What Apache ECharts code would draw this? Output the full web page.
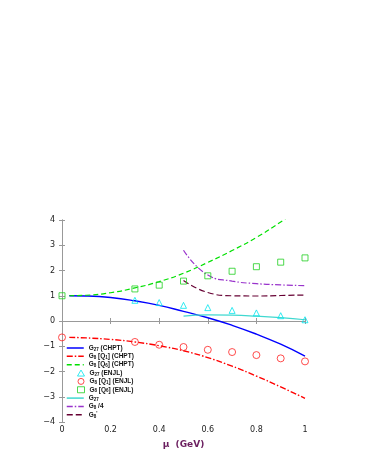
<!DOCTYPE html>
<html><head><meta charset="utf-8">
<script src="https://cdn.jsdelivr.net/npm/echarts@6/dist/echarts.min.js"></script>
<style>html,body{margin:0;padding:0;background:#fff}#c{width:368px;height:476px}</style>
</head><body><div id="c"></div>
<script>
// Data
const muCurve = [0.03, 0.1, 0.2, 0.3, 0.4, 0.5, 0.6, 0.7, 0.8, 0.9, 1.0];
const g27Chpt = [1.0, 0.99, 0.93, 0.80, 0.62, 0.38, 0.13, -0.17, -0.52, -0.92, -1.39];
const g8q1Chpt = [-0.65, -0.67, -0.73, -0.83, -0.98, -1.18, -1.45, -1.79, -2.18, -2.61, -3.06];
const g8q6Chpt = [1.0, 1.02, 1.12, 1.31, 1.56, 1.89, 2.32, 2.79, 3.31, 3.92, 4.6];
const muPts = [0, 0.3, 0.4, 0.5, 0.6, 0.7, 0.8, 0.9, 1.0];
const g27Enjl = [null, 0.82, 0.73, 0.62, 0.53, 0.42, 0.32, 0.21, 0.05];
const g8q1Enjl = [-0.65, -0.83, -0.94, -1.03, -1.14, -1.23, -1.35, -1.48, -1.60];
const g8q6Enjl = [1.0, 1.27, 1.42, 1.58, 1.79, 1.97, 2.15, 2.33, 2.50];
const muHigh = [0.5, 0.6, 0.7, 0.8, 0.9, 1.0];
const g27Line = [0.19, 0.24, 0.23, 0.19, 0.13, 0.05];
const g8Quarter = [2.80, 1.82, 1.58, 1.48, 1.43, 1.40];
const g8Prime = [1.60, 1.13, 1.00, 0.99, 1.01, 1.03];
const xTicks = [0, 0.2, 0.4, 0.6, 0.8, 1];
const yTicks = [-4, -3, -2, -1, 0, 1, 2, 3, 4];

const namesChpt = ['G27 (CHPT)','G8 [Q1] (CHPT)','G8 [Q6] (CHPT)'];
const namesEnjl = ['G27 (ENJL)','G8 [Q1] (ENJL)','G8 [Q6] (ENJL)'];
const namesOther = ['G27','G8/4',"G8'"];
const richNames = {
  'G27 (CHPT)': '{t|G}{s|27}{t| (CHPT)}',
  'G8 [Q1] (CHPT)': '{t|G}{s|8}{t| [Q}{s|1}{t|] (CHPT)}',
  'G8 [Q6] (CHPT)': '{t|G}{s|8}{t| [Q}{s|6}{t|] (CHPT)}',
  'G27 (ENJL)': '{t|G}{s|27}{t| (ENJL)}',
  'G8 [Q1] (ENJL)': '{t|G}{s|8}{t| [Q}{s|1}{t|] (ENJL)}',
  'G8 [Q6] (ENJL)': '{t|G}{s|8}{t| [Q}{s|6}{t|] (ENJL)}',
  'G27': '{t|G}{s|27}',
  'G8/4': '{t|G}{s|8}{t| /4}',
  "G8'": "{t|G}{s|8}{p|'}"
};
const zip = (xs, ys) => xs.map((x, i) => [x, ys[i]]);
const fmtNum = v => { const s = (Math.round(v*10)/10).toString(); return s.replace('-', '\u2212'); };

const lineS = (name, xs, ys, color, type, w) => ({
  name, type: 'line', data: zip(xs, ys), showSymbol: false, symbol: 'circle', smooth: true,
  lineStyle: { color, width: w || 1.2, type }, itemStyle: { color }, clip: true, z: 2
});
const scatS = (name, xs, ys, color, symbol, size) => ({
  name, type: 'scatter', data: zip(xs, ys).filter(p => p[1] !== null), symbol, symbolSize: size,
  itemStyle: { color: 'rgba(0,0,0,0)', borderColor: color, borderWidth: 1 }, z: 3
});

const rowH = 8.35;
const rich = {
  t: { fontSize: 6.5, fontFamily: 'Liberation Sans', color: '#111', fontWeight: 'bold', lineHeight: 8, verticalAlign: 'middle' },
  s: { fontSize: 4.5, fontFamily: 'Liberation Sans', color: '#111', fontWeight: 'bold', lineHeight: 5, verticalAlign: 'bottom' },
  p: { fontSize: 5, fontFamily: 'Liberation Sans', color: '#111', fontWeight: 'bold', lineHeight: 5, verticalAlign: 'top' }
};
const legendBase = {
  orient: 'vertical', itemGap: rowH - 8, itemHeight: 6, padding: 0, selectedMode: false,
  formatter: n => richNames[n], textStyle: { rich, lineHeight: 8 }
};

const chart = echarts.init(document.getElementById('c'), null, { renderer: 'canvas' });
const axisCommon = {
  type: 'value', axisLine: { show: true, lineStyle: { color: '#999', width: 1 } },
  axisTick: { show: true, inside: true, length: 3, lineStyle: { color: '#999' } },
  splitLine: { show: false }
};
const legTop = 348 - 4;
chart.setOption({
  animation: false,
  backgroundColor: '#fff',
  grid: { left: 62, right: 63, top: 220, bottom: 54 },
  xAxis: [
    Object.assign({}, axisCommon, { min: 0, max: 1, interval: 0.2, position: 'bottom',
      axisLabel: { color: '#222', fontSize: 8, fontFamily: 'DejaVu Sans', margin: 4, formatter: v => fmtNum(v) },
      name: 'μ  (GeV)', nameLocation: 'middle', nameGap: 18,
      nameTextStyle: { color: '#6b1f5f', fontSize: 9, fontWeight: 'bold', fontFamily: 'DejaVu Sans' } }),
    Object.assign({}, axisCommon, { min: 0, max: 1, interval: 0.2, position: 'top', axisLabel: { show: false } })
  ],
  yAxis: [
    Object.assign({}, axisCommon, { min: -4, max: 4, interval: 1, position: 'left',
      axisLabel: { color: '#222', fontSize: 8, fontFamily: 'DejaVu Sans', margin: 7, formatter: v => fmtNum(v) } }),
    Object.assign({}, axisCommon, { min: -4, max: 4, interval: 1, position: 'right', axisLabel: { show: false } })
  ],
  legend: [
    Object.assign({}, legendBase, { left: 66, top: legTop, itemWidth: 17,
      lineStyle: { width: 1.5 },
      data: namesChpt.map(n => ({ name: n, itemStyle: { opacity: 0 } })) }),
    Object.assign({}, legendBase, { left: 77, top: legTop + 3 * rowH, itemWidth: 7,
      itemStyle: { borderWidth: 1 },
      data: namesEnjl }),
    Object.assign({}, legendBase, { left: 66, top: legTop + 6 * rowH, itemWidth: 17,
      lineStyle: { width: 1.5 },
      data: namesOther.map(n => ({ name: n, itemStyle: { opacity: 0 } })) })
  ],
  series: [
    lineS('G27 (CHPT)', muCurve, g27Chpt, '#0000ff', 'solid', 1.4),
    lineS('G8 [Q1] (CHPT)', muCurve, g8q1Chpt, '#ff0000', [6, 2, 1.5, 2], 1.4),
    lineS('G8 [Q6] (CHPT)', muCurve, g8q6Chpt, '#00e000', [5, 3], 1.2),
    scatS('G27 (ENJL)', muPts, g27Enjl, '#00e5ee', 'triangle', 6),
    scatS('G8 [Q1] (ENJL)', muPts, g8q1Enjl, '#ff2020', 'circle', 7),
    scatS('G8 [Q6] (ENJL)', muPts, g8q6Enjl, '#20d020', 'rect', 6),
    lineS('G27', muHigh, g27Line, '#40d8d0', 'solid', 1.2),
    lineS('G8/4', muHigh, g8Quarter, '#9933cc', [6, 2, 1.5, 2], 1.2),
    lineS("G8'", muHigh, g8Prime, '#660033', [6, 3], 1.2)
  ]
});
</script></body></html>
